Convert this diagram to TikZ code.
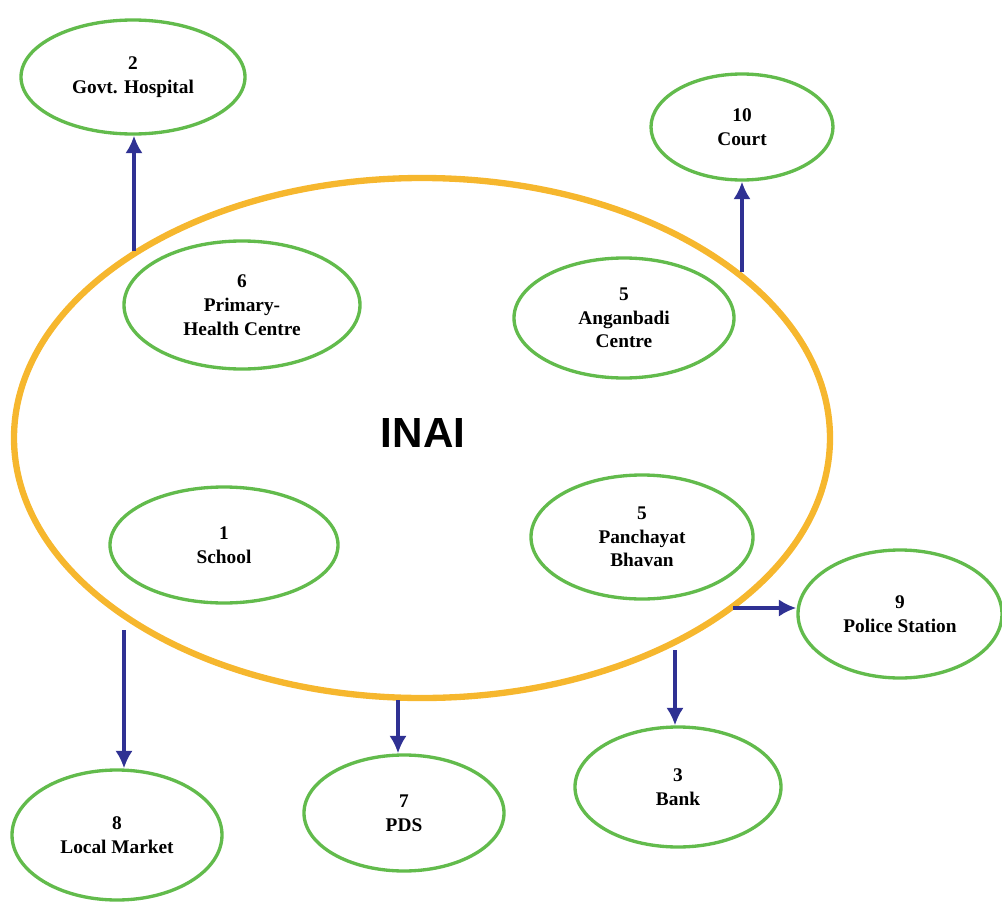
\documentclass[tikz,border=0pt]{standalone}
\usepackage{fontspec}
\setmainfont{Liberation Serif}
\newfontfamily\inaifont{Liberation Sans}
\usetikzlibrary{shapes.geometric, arrows.meta, positioning}

\definecolor{ringyellow}{HTML}{F6B72E}
\definecolor{placegreen}{HTML}{62BB4C}
\definecolor{linkblue}{HTML}{2F3193}

\begin{document}
\begin{tikzpicture}[x=0.02cm, y=-0.02cm,
  every node/.style = {ellipse, draw = placegreen, line width = 1.9pt, inner sep = 0pt, align = center, font = \fontsize{11}{13.5}\selectfont\bfseries},
  link/.style = {draw = linkblue, line width = 2.3pt, -{Latex[length = 10pt, width = 10pt]}}]

  \useasboundingbox (0,0) rectangle (1002,903);

  \node[draw = ringyellow, line width = 3.6pt, minimum width = 816*0.02cm, minimum height = 520*0.02cm] (village) at (422,438) {};
  \node[draw = none, font = \inaifont\fontsize{24}{28}\selectfont\bfseries] (inai) at (423,433) {INAI};

  \node[minimum width = 224*0.02cm, minimum height = 114*0.02cm] (hosp) at (133,77) {2\\Govt. Hospital};
  \node[minimum width = 182*0.02cm, minimum height = 106*0.02cm] (court) at (742,127) {10\\Court};
  \node[minimum width = 236*0.02cm, minimum height = 128*0.02cm] (phc) at (242,305) {6\\Primary-\\Health Centre};
  \node[minimum width = 220*0.02cm, minimum height = 120*0.02cm] (anganbadi) at (624,318) {5\\Anganbadi\\Centre};
  \node[minimum width = 228*0.02cm, minimum height = 116*0.02cm] (school) at (224,545) {1\\School};
  \node[minimum width = 222*0.02cm, minimum height = 124*0.02cm] (panchayat) at (642,537) {5\\Panchayat\\Bhavan};
  \node[minimum width = 204*0.02cm, minimum height = 128*0.02cm] (police) at (900,614) {9\\Police Station};
  \node[minimum width = 206*0.02cm, minimum height = 120*0.02cm] (bank) at (678,787) {3\\Bank};
  \node[minimum width = 200*0.02cm, minimum height = 116*0.02cm] (pds) at (404,813) {7\\PDS};
  \node[minimum width = 210*0.02cm, minimum height = 130*0.02cm] (market) at (117,835) {8\\Local Market};

  % arrow starts on the big ring
  \coordinate (s1) at (134,251);
  \coordinate (s2) at (742,272);
  \coordinate (s3) at (124,630);
  \coordinate (s4) at (398,700);
  \coordinate (s5) at (675,650);
  \coordinate (s6) at (733,608);

  \draw[link] (s1) -- (s1 |- hosp.south);
  \draw[link] (s2) -- (s2 |- court.south);
  \draw[link] (s3) -- (s3 |- market.north);
  \draw[link] (s4) -- (s4 |- pds.north);
  \draw[link] (s5) -- (s5 |- bank.north);
  \draw[link] (s6) -- (s6 -| police.west);
\end{tikzpicture}
\end{document}
